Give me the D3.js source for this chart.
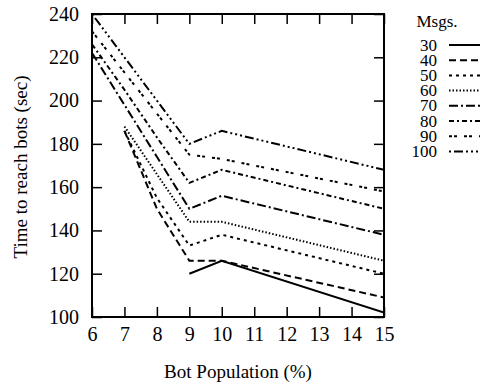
<!DOCTYPE html>
<html>
<head>
<meta charset="utf-8">
<script src="https://cdnjs.cloudflare.com/ajax/libs/d3/7.8.5/d3.min.js"></script>
<style>
  body { margin: 0; background: #fff; }
</style>
</head>
<body>
<script>
// bot population (%) on x
var xValues = [6, 7, 8, 9, 10, 15];
var msgs = [30, 40, 50, 60, 70, 80, 90, 100];
// time to reach bots (sec), null where no point
var t30  = [null, null, null, 120, 126, 102];
var t40  = [null, 186, 150, 126, 126, 109];
var t50  = [null, 186, 155, 133, 138, 120];
var t60  = [null, 188, 166, 144, 144, 126];
var t70  = [222, 198, 174, 150, 156, 138];
var t80  = [226, 205, 183, 162, 168, 150];
var t90  = [232, 213, 194, 175, 173, 158];
var t100 = [240, 220, 200, 180, 186, 168];
var xTicks = [6, 7, 8, 9, 10, 11, 12, 13, 14, 15];
var yTicks = [100, 120, 140, 160, 180, 200, 220, 240];

var series = [t30, t40, t50, t60, t70, t80, t90, t100];
var dashes = ["none", "7,4", "3,4", "1.5,2", "9,3,2,3", "5,3,2,3", "3,2,3,7", "2,3,9,3,2,3,2,3"];

var width = 482, height = 389;
var pLeft = 92, pRight = 384, pTop = 14, pBottom = 317;
var serif = "Liberation Serif";

var svg = d3.select("body").append("svg")
    .attr("width", width)
    .attr("height", height)
    .attr("font-family", serif);

var x = d3.scaleLinear().domain([6, 15]).range([pLeft, pRight]);
var y = d3.scaleLinear().domain([100, 240]).range([pBottom, pTop]);

svg.append("clipPath").attr("id", "plot")
  .append("rect")
    .attr("x", pLeft).attr("y", pTop)
    .attr("width", pRight - pLeft).attr("height", pBottom - pTop);

var line = d3.line()
    .defined(function(d) { return d[1] != null; })
    .x(function(d) { return x(d[0]); })
    .y(function(d) { return y(d[1]); });

// ticks on all four sides, pointing in
var axes = [
  [d3.axisBottom(x).tickValues(xTicks).tickPadding(10), "translate(0," + pBottom + ")", true],
  [d3.axisTop(x).tickValues(xTicks), "translate(0," + pTop + ")", false],
  [d3.axisLeft(y).tickValues(yTicks).tickPadding(13), "translate(" + pLeft + ",0)", true],
  [d3.axisRight(y).tickValues(yTicks), "translate(" + pRight + ",0)", false]
];
axes.forEach(function(a) {
  var g = svg.append("g").attr("transform", a[1])
      .call(a[0].tickSize(-10));
  g.attr("font-family", serif).attr("font-size", 20);
  g.select(".domain").remove();
  g.selectAll(".tick line").attr("stroke", "#000").attr("stroke-width", 1.5);
  g.selectAll(".tick text").attr("font-family", serif).attr("font-size", 20);
  if (!a[2]) g.selectAll(".tick text").remove();
});

svg.append("rect")
    .attr("x", pLeft).attr("y", pTop)
    .attr("width", pRight - pLeft).attr("height", pBottom - pTop)
    .attr("fill", "none")
    .attr("stroke", "#000")
    .attr("stroke-width", 2);

var plot = svg.append("g").attr("clip-path", "url(#plot)");
series.forEach(function(s, i) {
  plot.append("path")
      .datum(xValues.map(function(v, j) { return [v, s[j]]; }))
      .attr("d", line)
      .attr("fill", "none")
      .attr("stroke", "#000")
      .attr("stroke-width", 2)
      .attr("stroke-dasharray", dashes[i]);
});

// axis titles
svg.append("text")
    .attr("x", (pLeft + pRight) / 2)
    .attr("y", 378)
    .attr("text-anchor", "middle")
    .attr("font-family", serif)
    .attr("font-size", 19)
    .text("Bot Population (%)");

svg.append("text")
    .attr("transform", "translate(27,167) rotate(-90)")
    .attr("text-anchor", "middle")
    .attr("font-family", serif)
    .attr("font-size", 19)
    .text("Time to reach bots (sec)");

// legend
var legend = svg.append("g").attr("font-family", serif).attr("font-size", 17);
legend.append("text")
    .attr("x", 437).attr("y", 27)
    .attr("text-anchor", "middle")
    .text("Msgs.");
msgs.forEach(function(m, i) {
  var ly = 45 + i * 15.2;
  legend.append("text")
      .attr("x", 437).attr("y", ly + 5.5)
      .attr("text-anchor", "end")
      .text(m);
  legend.append("line")
      .attr("x1", 449).attr("x2", 480)
      .attr("y1", ly).attr("y2", ly)
      .attr("stroke", "#000")
      .attr("stroke-width", 2)
      .attr("stroke-dasharray", dashes[i]);
});
</script>
</body>
</html>
